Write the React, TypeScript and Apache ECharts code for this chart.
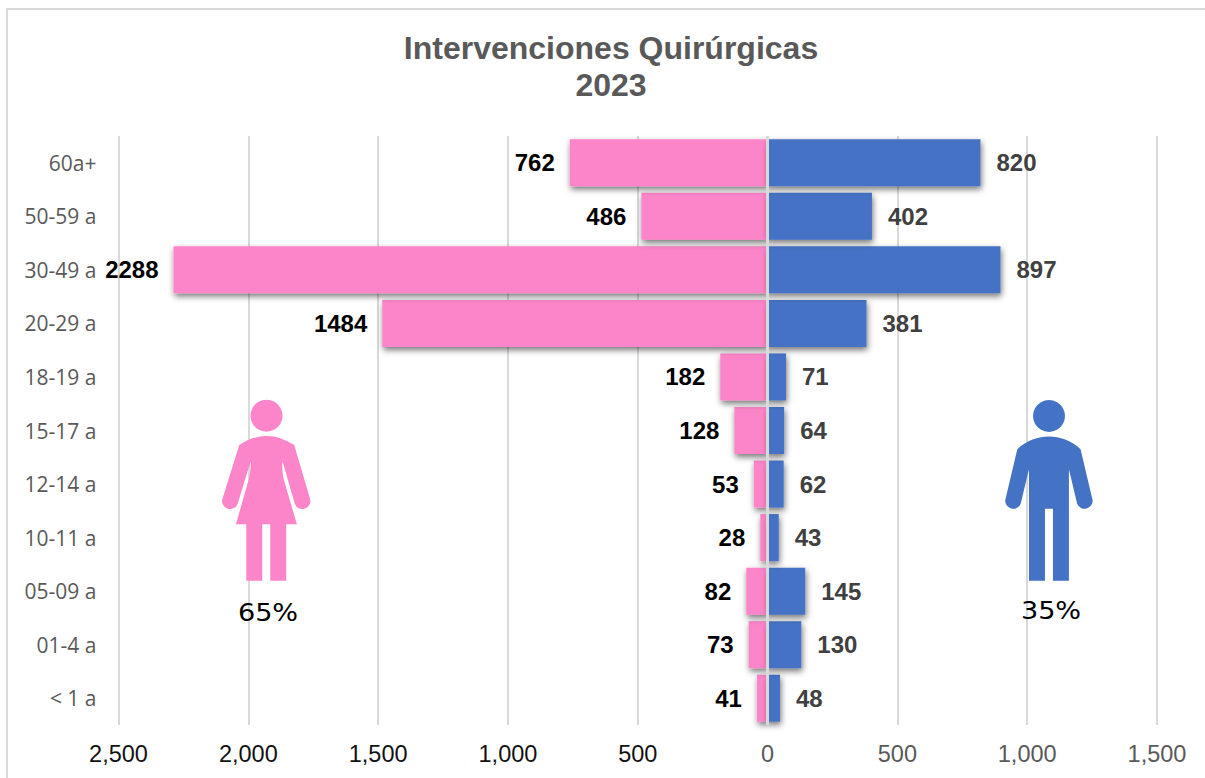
import React, { useEffect, useRef } from "react";
import * as echarts from "echarts";

const categories = ["< 1 a", "01-4 a", "05-09 a", "10-11 a", "12-14 a", "15-17 a", "18-19 a", "20-29 a", "30-49 a", "50-59 a", "60a+"];
const mujeres = [41, 73, 82, 28, 53, 128, 182, 1484, 2288, 486, 762];
const hombres = [48, 130, 145, 43, 62, 64, 71, 381, 897, 402, 820];
const titleLines = ["Intervenciones Quirúrgicas", "2023"];

const PINK = "#FB85C8";
const BLUE = "#4472C4";
const GRID = "#D9D9D9";

const womanPath =
  "M178 195 C205 178 232 168 260 168 C288 168 315 178 343 195 L390 355 A24 24 0 0 1 345 372 L308 245 C306 265 308 285 312 300 L351 433 L319 433 L319 603 L271 603 L271 433 L247 433 L247 603 L199 603 L199 433 L168 433 L206 300 C210 285 213 265 212 245 L173 372 A24 24 0 0 1 128 355 Z";
const manPath =
  "M112 208 C140 182 175 170 207 170 C239 170 274 182 302 208 L338 360 A24 24 0 0 1 292 372 L267 268 L267 603 L219 603 L219 387 L195 387 L195 603 L147 603 L147 268 L122 372 A24 24 0 0 1 76 360 Z";

echarts.graphic.registerShape("woman", (echarts.graphic as any).extendPath(womanPath, {}));
echarts.graphic.registerShape("man", (echarts.graphic as any).extendPath(manPath, {}));

const shadow = { shadowColor: "rgba(0,0,0,0.55)", shadowBlur: 6, shadowOffsetX: 1, shadowOffsetY: 3 };
const fmtTick = (v: number) => Math.abs(v).toLocaleString("en-US");
const fmtLabel = (v: number) => String(Math.abs(v));

export default function App() {
  const ref = useRef<HTMLDivElement>(null);
  useEffect(() => {
    document.body.style.margin = "0";
    const chart = echarts.init(ref.current!, undefined, { renderer: "svg" });
    chart.setOption({
      animation: false,
      backgroundColor: "#fff",
      textStyle: { fontFamily: "Liberation Sans" },
      title: {
        text: titleLines.join("\n"),
        left: 606,
        top: 24,
        textAlign: "center",
        textStyle: { fontFamily: "Liberation Sans", fontSize: 32, fontWeight: "bold", color: "#595959", lineHeight: 37 },
      },
      grid: { left: 118.5, right: 48, top: 136, bottom: 53 },
      xAxis: {
        type: "value",
        min: -2500,
        max: 1500,
        interval: 500,
        axisLine: { show: false },
        axisTick: { show: false },
        splitLine: { show: true, lineStyle: { color: GRID, width: 2 } },
        axisLabel: {
          margin: 17,
          formatter: (v: number) => (v < 0 ? `{l|${fmtTick(v)}}` : `{r|${fmtTick(v)}}`),
          rich: {
            l: { fontFamily: "Liberation Sans", fontSize: 23.5, color: "#111111" },
            r: { fontFamily: "Liberation Sans", fontSize: 23.5, color: "#595959" },
          },
        },
      },
      yAxis: {
        type: "category",
        data: categories,
        axisLine: { show: false, onZero: false },
        axisTick: { show: false },
        axisLabel: { margin: 22, fontFamily: "Open Sans", fontSize: 21, color: "#595959" },
      },
      series: [
        {
          name: "Mujeres",
          type: "bar",
          data: mujeres.map((v) => -v),
          barWidth: 47,
          barGap: "-100%",
          itemStyle: { color: PINK, ...shadow },
          label: {
            show: true,
            position: "left",
            distance: 15,
            formatter: (p: any) => fmtLabel(p.value),
            fontFamily: "Liberation Sans",
            fontSize: 24,
            fontWeight: "bold",
            color: "#000",
          },
          markLine: {
            silent: true,
            symbol: "none",
            label: { show: false },
            lineStyle: { color: GRID, width: 3, type: "solid" },
            data: [{ xAxis: 0 }],
            z: 10,
          },
        },
        {
          name: "Hombres",
          type: "bar",
          data: hombres,
          barWidth: 47,
          itemStyle: { color: BLUE, ...shadow },
          label: {
            show: true,
            position: "right",
            distance: 16,
            formatter: (p: any) => fmtLabel(p.value),
            fontFamily: "Liberation Sans",
            fontSize: 24,
            fontWeight: "bold",
            color: "#404040",
          },
        },
      ],
      graphic: [
        { type: "polyline", shape: { points: [[7, 778], [7, 9], [1205, 9]] }, style: { stroke: "#D9D9D9", lineWidth: 2, fill: "none" }, silent: true },
        { type: "circle", shape: { cx: 266.5, cy: 415.7, r: 16 }, style: { fill: PINK }, z: 20 },
        { type: "woman", x: 180, y: 380, scaleX: 1 / 3, scaleY: 1 / 3, style: { fill: PINK }, z: 20 },
        { type: "circle", shape: { cx: 1049, cy: 416, r: 16 }, style: { fill: BLUE }, z: 20 },
        { type: "man", x: 980, y: 380, scaleX: 1 / 3, scaleY: 1 / 3, style: { fill: BLUE }, z: 20 },
        { type: "text", x: 268, y: 613, scaleX: 1.13, z: 20, style: { text: "65%", fontFamily: "DejaVu Sans", fontSize: 24, fill: "#000", align: "center", verticalAlign: "middle" } },
        { type: "text", x: 1051, y: 611, scaleX: 1.13, z: 20, style: { text: "35%", fontFamily: "DejaVu Sans", fontSize: 24, fill: "#000", align: "center", verticalAlign: "middle" } },
      ],
    });
    return () => chart.dispose();
  }, []);
  return <div ref={ref} style={{ width: 1205, height: 778 }} />;
}
